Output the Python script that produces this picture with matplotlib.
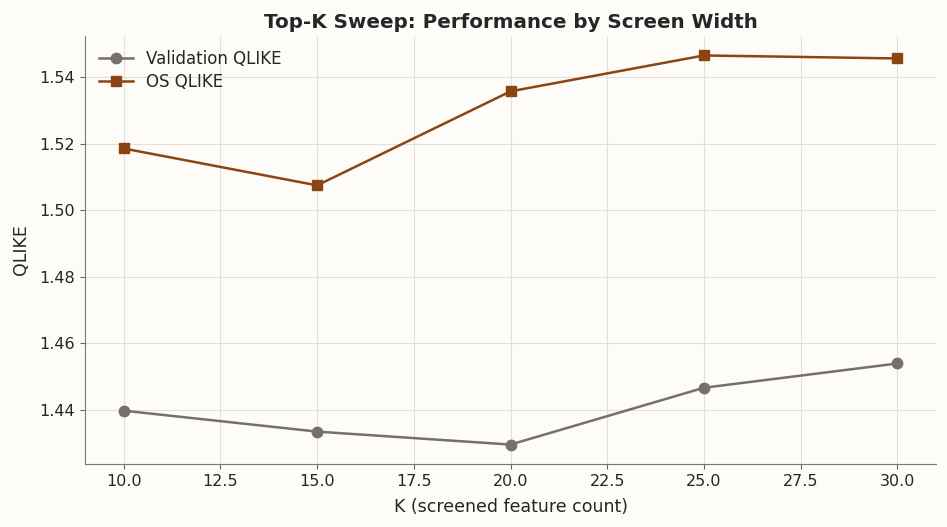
import matplotlib
matplotlib.use('Agg')
import matplotlib.pyplot as plt

# top-k sweep results
k_values = [10, 15, 20, 25, 30]
val_qlike = [1.4397, 1.4334, 1.4295, 1.4466, 1.4539]
os_qlike = [1.5186, 1.5075, 1.5358, 1.5466, 1.5457]

bg = '#fdfcf9'

fig, ax = plt.subplots(figsize=(9.47, 5.27), dpi=100)
fig.patch.set_facecolor(bg)
ax.set_facecolor(bg)

ax.plot(k_values, val_qlike, marker='o', color='#76706c', lw=1.8, ms=7.5, label='Validation QLIKE')
ax.plot(k_values, os_qlike, marker='s', color='#8b4513', lw=1.8, ms=7.5, label='OS QLIKE')

ax.set_title('Top-K Sweep: Performance by Screen Width', fontsize=14.3, fontweight='bold', color='#262626', pad=6)
ax.set_xlabel('K (screened feature count)', fontsize=12.5, color='#262626', labelpad=7)
ax.set_ylabel('QLIKE', fontsize=12.5, color='#262626', labelpad=7)
ax.tick_params(labelsize=11.5, colors='#262626')
ax.tick_params(color='#666666')

ax.grid(True, color='#e3e0dc', lw=0.8)
ax.set_axisbelow(True)
for s in ['top', 'right']:
    ax.spines[s].set_visible(False)
for s in ['left', 'bottom']:
    ax.spines[s].set_color('#777777')

ax.legend(frameon=False, fontsize=12, loc='upper left', borderaxespad=0.45,
          labelspacing=0.28, labelcolor='#262626')

plt.subplots_adjust(left=0.0898, right=0.9884, top=0.9317, bottom=0.1195)
plt.savefig('out.png', facecolor=bg)
